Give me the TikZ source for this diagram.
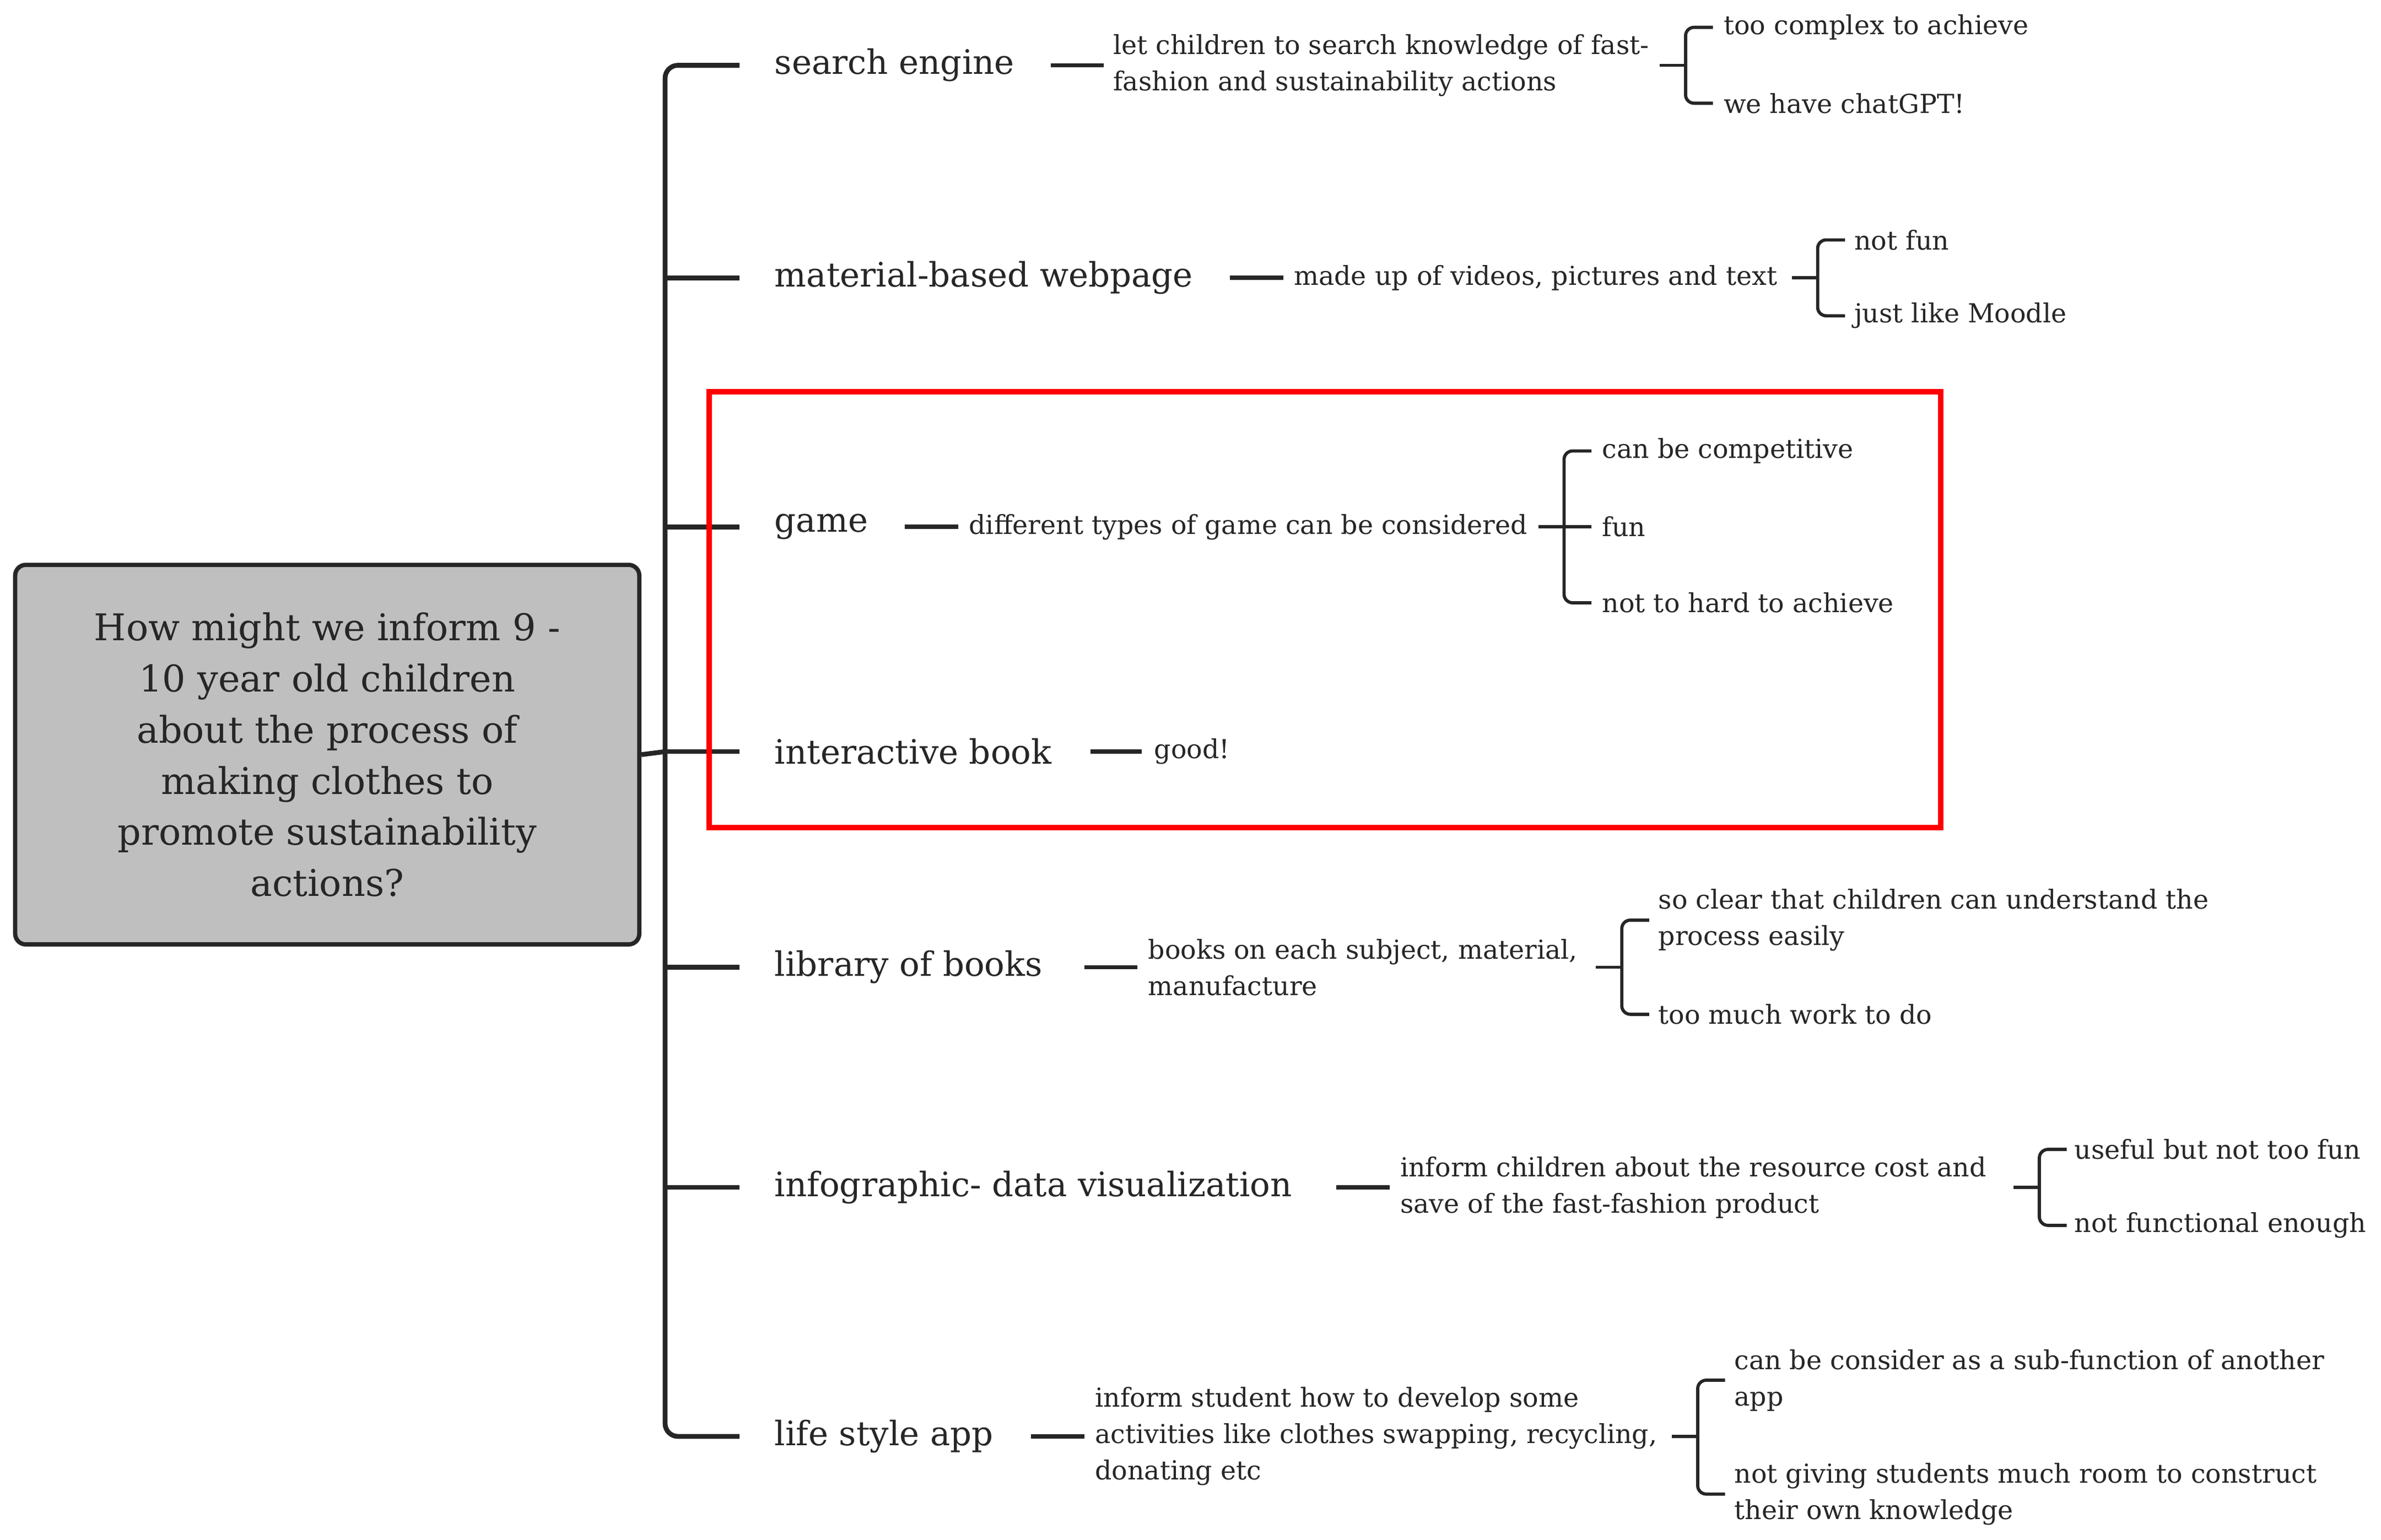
\documentclass[tikz,border=0pt]{standalone}
\usepackage{fontspec}
\setmainfont{DejaVu Serif}
\begin{document}
\begin{tikzpicture}[x=0.05cm,y=-0.05cm,
  big/.style={anchor=west,inner sep=0pt,font=\fontsize{31.5}{36}\selectfont,text=black!85},
  small/.style={anchor=west,inner sep=0pt,align=left,font=\fontsize{24.5}{34}\selectfont,text=black!85},
  main/.style={line width=4.5pt,draw=black!85,rounded corners=12pt},
  link/.style={line width=4pt,draw=black!85},
  brk/.style={line width=3pt,draw=black!85,rounded corners=8pt}]
\useasboundingbox (0,0) rectangle (1568,1014);
% root
\node[draw=black!85,line width=4pt,fill=black!25,rounded corners=10pt,minimum width=411*0.05cm,minimum height=250*0.05cm,align=center,font=\fontsize{34.5}{48}\selectfont,text=black!85] (root) at (215.5,497)
 {How might we inform 9 -\\10 year old children\\about the process of\\making clothes to\\promote sustainability\\actions?};
% spine
\coordinate (top) at (487,43);
\coordinate (bot) at (487,946);
\draw[main] (top) -- (438,43) -- (438,946) -- (bot);
\foreach \y in {183,347,495,637,782}{\draw[main] (438,\y) -- (487,\y);}
\coordinate (sp) at (438,495);
\draw[main] (root.east) -- (sp);
% bracket macro
\newcommand{\brak}[4]{% x, top, bottom, stub y
  \draw[brk] (#1+18,#2) -- (#1,#2) -- (#1,#3) -- (#1+18,#3);
  \draw[brk] (#1-17,#4) -- (#1,#4);}
% 1
\node[big] (b1) at (510,43) {search engine};
\node[small] (t1) at (733,43) {let children to search knowledge of fast-\\fashion and sustainability actions};
\draw[link] (692,43) -- (727,43);
\brak{1110}{18}{68}{43}
\node[small] (l1a) at (1135,18) {too complex to achieve};
\node[small] (l1b) at (1135,68) {we have chatGPT!};
% 2
\node[big] (b2) at (510,183) {material-based webpage};
\node[small] (t2) at (852,183) {made up of videos, pictures and text};
\draw[link] (810,183) -- (845,183);
\brak{1197}{158}{208}{183}
\node[small] (l2a) at (1221,158) {not fun};
\node[small] (l2b) at (1221,208) {just like Moodle};
% 3
\node[big] (b3) at (510,347) {game};
\node[small] (t3) at (638,347) {different types of game can be considered};
\draw[link] (596,347) -- (631,347);
\brak{1030}{297}{397}{347}
\draw[brk] (1030,347) -- (1048,347);
\node[small] (l3a) at (1055,297) {can be competitive};
\node[small] (l3b) at (1055,347) {fun};
\node[small] (l3c) at (1055,397) {not to hard to achieve};
% 4
\node[big] (b4) at (510,495) {interactive book};
\node[small] (t4) at (760,495) {good!};
\draw[link] (718,495) -- (752,495);
% 5
\node[big] (b5) at (510,637) {library of books};
\node[small] (t5) at (756,637) {books on each subject, material,\\manufacture};
\draw[link] (714,637) -- (749,637);
\brak{1068}{606}{668}{637}
\node[small] (l5a) at (1092,606) {so clear that children can understand the\\process easily};
\node[small] (l5b) at (1092,668) {too much work to do};
% 6
\node[big] (b6) at (510,782) {infographic- data visualization};
\node[small] (t6) at (922,782) {inform children about the resource cost and\\save of the fast-fashion product};
\draw[link] (880,782) -- (915,782);
\brak{1343}{757}{807}{782}
\node[small] (l6a) at (1366,757) {useful but not too fun};
\node[small] (l6b) at (1366,807) {not functional enough};
% 7
\node[big] (b7) at (510,946) {life style app};
\node[small] (t7) at (721,946) {inform student how to develop some\\activities like clothes swapping, recycling,\\donating etc};
\draw[link] (679,946) -- (714,946);
\brak{1118}{909}{984}{946}
\node[small] (l7a) at (1142,909) {can be consider as a sub-function of another\\app};
\node[small] (l7b) at (1142,984) {not giving students much room to construct\\their own knowledge};
% red box
\draw[red,line width=5pt] (467,258) rectangle (1278,545);
\end{tikzpicture}
\end{document}
